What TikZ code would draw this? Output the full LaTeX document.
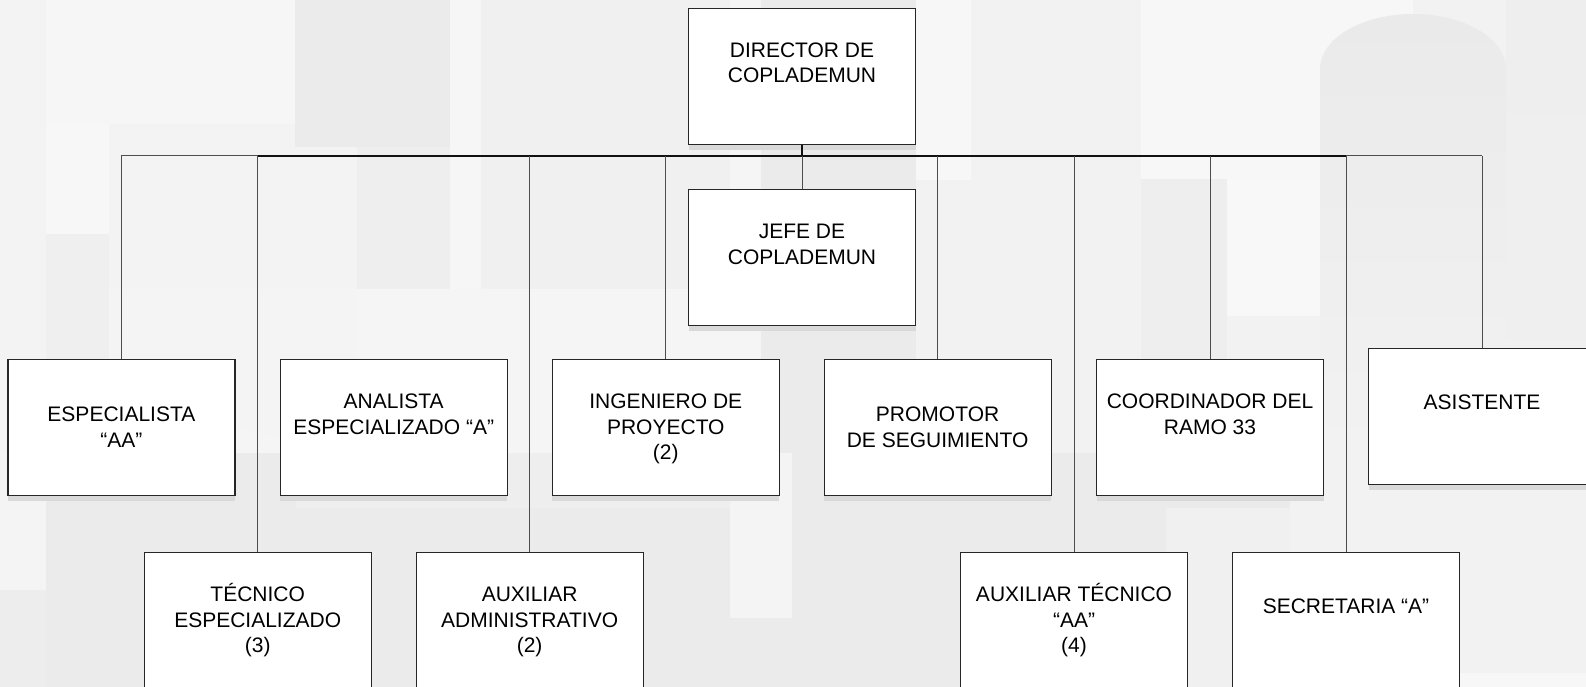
\documentclass[tikz,border=0pt]{standalone}
\usepackage{fontspec}
\setmainfont{Liberation Sans}
\usetikzlibrary{calc}
\definecolor{bgbase}{HTML}{F2F2F2}
\definecolor{gA}{HTML}{F3F3F3}
\definecolor{gB}{HTML}{F6F6F6}
\definecolor{gC}{HTML}{F7F7F7}
\definecolor{gD}{HTML}{EFEFEF}
\definecolor{gE}{HTML}{EBEBEB}
\definecolor{gF}{HTML}{EEEEEE}
\definecolor{gG}{HTML}{F5F5F5}
\definecolor{gH}{HTML}{F0F0F0}
\definecolor{gI}{HTML}{F8F8F8}
\definecolor{gJ}{HTML}{F4F4F4}
\definecolor{gK}{HTML}{EAEAEA}
\definecolor{gL}{HTML}{EDEDED}
\definecolor{boxline}{HTML}{262626}
\definecolor{shadowc}{HTML}{D9D9D9}
\definecolor{linec}{HTML}{4D4D4D}
\definecolor{busc}{HTML}{111111}
\begin{document}
\begin{tikzpicture}[x=1pt,y=-1pt,
  orgbox/.style={draw=boxline, line width=1.2pt, fill=white,
    minimum width=227pt, minimum height=136pt, inner sep=0pt,
    preaction={fill=shadowc, draw=none, transform canvas={yshift=-5.5pt}}},
  lbl/.style={anchor=north, inner sep=0pt, align=center,
    font=\fontsize{21}{25.5}\selectfont},
  link/.style={draw=linec, line width=1pt},
  busthick/.style={draw=busc, line width=1.8pt},
  busthin/.style={draw=linec, line width=1.2pt},
]
\useasboundingbox (0,0) rectangle (1586,687);
\clip (0,0) rectangle (1586,687);
% ---------- background watermark ----------
\fill[bgbase] (0,0) rectangle (1586,687);
% upper band
\fill[gA] (0,0) rectangle (46,453);
\fill[gB] (46,0) rectangle (295,124);
\fill[gC] (46,124) rectangle (109,234);
\fill[gD] (46,234) rectangle (109,453);
\fill[gA] (109,124) rectangle (357,289);
\fill[gJ] (109,289) rectangle (357,453);
\fill[gE] (295,0) rectangle (450,147);
\fill[gF] (357,147) rectangle (450,289);
\fill[gB] (450,0) rectangle (481,289);
\fill[gG] (357,289) rectangle (730,453);
\fill[gH] (481,0) rectangle (730,289);
\fill[gG] (730,0) rectangle (761,453);
\fill[gE] (761,0) rectangle (916,453);
\fill[gC] (916,0) rectangle (971,180);
\fill[bgbase] (916,180) rectangle (971,453);
\fill[bgbase] (971,0) rectangle (1141,453);
\fill[gC] (1141,0) rectangle (1413,179);
\fill[gF] (1141,179) rectangle (1227,453);
\fill[gI] (1227,179) rectangle (1320,316);
\fill[bgbase] (1227,316) rectangle (1320,453);
\shade[top color=gF, bottom color=gH] (1506,0) rectangle (1586,453);
\shade[top color=gK, bottom color=bgbase] (1320,453) -- (1320,69)
  arc[start angle=180, end angle=0, x radius=93pt, y radius=55pt] -- (1506,453) -- cycle;
% lower band
\fill[gJ] (0,453) rectangle (46,590);
\fill[gL] (0,590) rectangle (46,687);
\fill[gE] (46,453) rectangle (296,687);
\fill[gF] (296,453) rectangle (730,508);
\fill[gE] (296,508) rectangle (730,687);
\fill[gJ] (730,453) rectangle (792,618);
\fill[gE] (730,618) rectangle (792,687);
\fill[gE] (792,453) rectangle (1166,687);
\fill[gE] (1166,453) rectangle (1290,508);
\fill[gH] (1166,508) rectangle (1290,687);
\fill[bgbase] (1290,453) rectangle (1586,673);
\fill[gC] (1290,673) rectangle (1586,687);
\fill[gG] (236,426) -- (296,443) -- (296,453) -- (236,453) -- cycle;
% ---------- boxes ----------
\node[orgbox] (dir)  at (802,76.3)   {};
\node[orgbox] (jefe) at (802,257.7)  {};
\node[orgbox] (esp)  at (121.4,427.7) {};
\node[orgbox] (ana)  at (393.7,427.7) {};
\node[orgbox] (ing)  at (665.8,427.7) {};
\node[orgbox] (pro)  at (937.6,427.7) {};
\node[orgbox] (coo)  at (1210,427.7)  {};
\node[orgbox] (asi)  at (1482,416.3)  {};
\node[orgbox] (tec)  at (257.7,620.3) {};
\node[orgbox] (auxa) at (529.6,620.3) {};
\node[orgbox] (auxt) at (1074,620.3)  {};
\node[orgbox] (sec)  at (1346,620.3)  {};
% ---------- labels ----------
\node[lbl] (tdir)  at ($(dir.north)+(0,29.6)$)  {\rule{0pt}{20pt}DIRECTOR DE\\COPLADEMUN};
\node[lbl] (tjefe) at ($(jefe.north)+(0,29.6)$) {\rule{0pt}{20pt}JEFE DE\\COPLADEMUN};
\node[lbl] (tesp)  at ($(esp.north)+(0,42.6)$)  {\rule{0pt}{20pt}ESPECIALISTA\\“AA”};
\node[lbl] (tana)  at ($(ana.north)+(0,29.6)$)  {\rule{0pt}{20pt}ANALISTA\\ESPECIALIZADO “A”};
\node[lbl] (ting)  at ($(ing.north)+(0,29.6)$)  {\rule{0pt}{20pt}INGENIERO DE\\PROYECTO\\(2)};
\node[lbl] (tpro)  at ($(pro.north)+(0,42.6)$)  {\rule{0pt}{20pt}PROMOTOR\\DE SEGUIMIENTO};
\node[lbl] (tcoo)  at ($(coo.north)+(0,29.6)$)  {\rule{0pt}{20pt}COORDINADOR DEL\\RAMO 33};
\node[lbl] (tasi)  at ($(asi.north)+(0,42)$)    {\rule{0pt}{20pt}ASISTENTE};
\node[lbl] (ttec)  at ($(tec.north)+(0,29.6)$)  {\rule{0pt}{20pt}TÉCNICO\\ESPECIALIZADO\\(3)};
\node[lbl] (tauxa) at ($(auxa.north)+(0,29.6)$) {\rule{0pt}{20pt}AUXILIAR\\ADMINISTRATIVO\\(2)};
\node[lbl] (tauxt) at ($(auxt.north)+(0,29.6)$) {\rule{0pt}{20pt}AUXILIAR TÉCNICO\\“AA”\\(4)};
\node[lbl] (tsec)  at ($(sec.north)+(0,42)$)    {\rule{0pt}{20pt}SECRETARIA “A”};
% ---------- connectors ----------
\coordinate (busL) at (121.4,155.7);
\coordinate (busA) at (257.7,155.7);
\coordinate (busB) at (1346,155.7);
\coordinate (busR) at (1482,155.7);
\draw[busthin] (busL) -- (busA);
\draw[busthick] (busA) -- (busB);
\draw[busthin] (busB) -- (busR);
\draw[busthick] (dir.south) -- (dir.south |- busL);
\foreach \n in {jefe,esp,ing,pro,coo,asi,tec,auxa,auxt,sec}
  \draw[link] (\n.north) -- (\n.north |- busL);
\end{tikzpicture}
\end{document}
